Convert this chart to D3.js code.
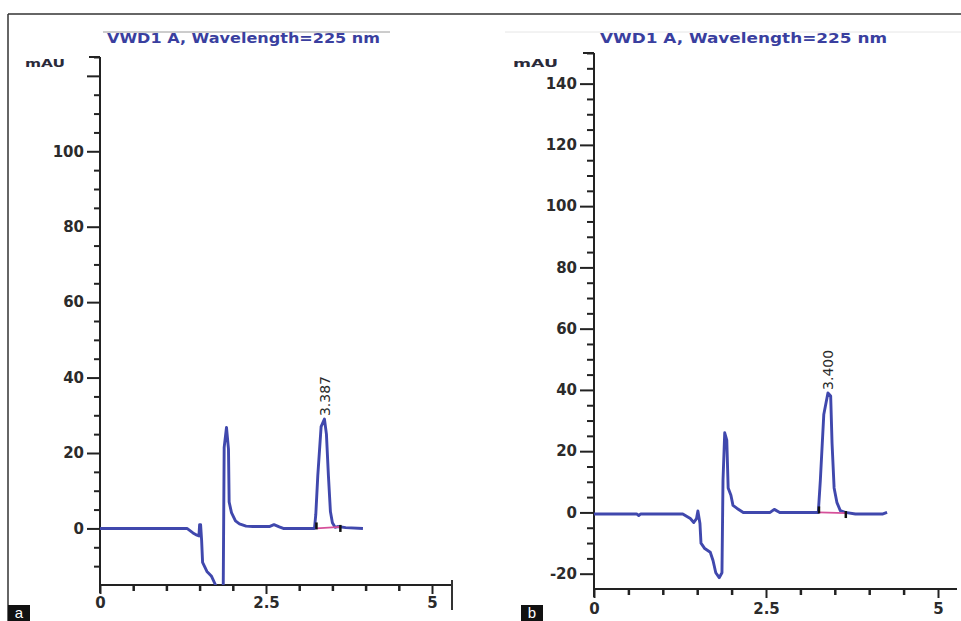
<!DOCTYPE html>
<html>
<head>
<meta charset="utf-8">
<script src="https://cdn.jsdelivr.net/npm/d3@7"></script>
<style>
  html, body { margin: 0; padding: 0; background: #fff; }
  svg { display: block; }
</style>
</head>
<body>
<svg id="chart" width="961" height="621"></svg>
<script>
// ---------------- DATA ----------------
const chartTitle = "VWD1 A, Wavelength=225 nm";
const yUnit = "mAU";
const panelNames = ["a", "b"];

// Panel a: retention time (min) and absorbance (mAU)
const timeA  = [0, 1.31, 1.40, 1.46, 1.49, 1.50, 1.515, 1.53, 1.545, 1.61, 1.68, 1.74, 1.80, 1.855, 1.87, 1.905, 1.935, 1.945, 1.98, 2.04, 2.10, 2.20, 2.30, 2.55, 2.62, 2.70, 2.76, 3.23, 3.25, 3.28, 3.33, 3.38, 3.41, 3.44, 3.47, 3.50, 3.54, 3.58, 3.70, 3.96];
const valueA = [0, 0, -1.2, -1.8, -2.0, 1.0, 1.0, -3.0, -9.0, -11.4, -12.7, -15, -18, -18, 21.5, 26.8, 21, 7, 4.2, 2.0, 1.2, 0.6, 0.5, 0.5, 1.0, 0.4, 0, 0, 3.7, 14, 27, 29, 25, 14, 4.5, 1.5, 0.3, 0.5, 0.2, 0];

// Panel b
const timeB  = [0, 0.62, 0.65, 0.68, 1.29, 1.40, 1.45, 1.49, 1.51, 1.54, 1.555, 1.61, 1.69, 1.73, 1.77, 1.82, 1.86, 1.875, 1.90, 1.93, 1.95, 1.99, 2.02, 2.08, 2.17, 2.56, 2.62, 2.70, 3.26, 3.29, 3.34, 3.40, 3.44, 3.46, 3.49, 3.53, 3.58, 3.65, 3.80, 4.20, 4.26];
const valueB = [-0.5, -0.5, -1.0, -0.5, -0.5, -2.0, -3.3, -2.0, 0.5, -3.6, -10, -11.8, -13, -15.7, -19.7, -21.3, -19.7, 10.5, 26, 23.6, 8, 5.6, 2.3, 1.3, 0, 0, 1.0, 0, 0, 10.5, 32, 39, 38, 22.6, 8, 3.3, 0.6, 0, -0.5, -0.5, 0];

// Integrated peaks: label (retention time), start/end of baseline, start/end baseline levels
const peakTimes   = [3.387, 3.400];
const peakHeights = [29, 39];
const peakStart   = [3.26, 3.27];
const peakEnd     = [3.62, 3.66];
const peakBaseStart = [0, 0];
const peakBaseEnd   = [0.4, -0.2];

// Axis ticks
const xMajorTicks = [0, 2.5, 5];
const xTickLabels = ["0", "2.5", "5"];
const yMajorTicksA = [0, 20, 40, 60, 80, 100, 120];
const yTickLabelsA = ["0", "20", "40", "60", "80", "100", ""];
const yMajorTicksB = [-20, 0, 20, 40, 60, 80, 100, 120, 140];
const yTickLabelsB = ["-20", "0", "20", "40", "60", "80", "100", "120", "140"];
const yDomainA = [-15, 125];
const yDomainB = [-25, 150];
const xDomain = [0, 5];

// ---------------- DRAW ----------------
const svg = d3.select("#chart");
const traceColor = "#4048ad";
const titleColor = "#3a3f9f";
const tickFont = "'DejaVu Sans', sans-serif";

// outer frame
svg.append("line").attr("x1", 8).attr("x2", 961).attr("y1", 14).attr("y2", 14)
  .attr("stroke", "#333").attr("stroke-width", 1.5);
svg.append("line").attr("x1", 8).attr("x2", 8).attr("y1", 14).attr("y2", 621)
  .attr("stroke", "#333").attr("stroke-width", 1.5);

const panels = [
  { time: timeA, value: valueA, yDomain: yDomainA, yTicks: yMajorTicksA, yLabels: yTickLabelsA,
    xRange: [100, 432], yRange: [585, 57], axisEnd: 452, endCap: true,
    titleX: 107, titleLen: 273, titleLine: [103, 390], titleLineColor: "#9a9a9a",
    unitX: 25, unitLen: 40, xLabelY: 608, majorLen: 13, minorLen: 6,
    boxX: 8, idx: 0 },
  { time: timeB, value: valueB, yDomain: yDomainB, yTicks: yMajorTicksB, yLabels: yTickLabelsB,
    xRange: [594, 938], yRange: [589, 53], axisEnd: 957, endCap: false,
    titleX: 600, titleLen: 287, titleLine: [505, 961], titleLineColor: "#e6e6e6",
    unitX: 513, unitLen: 45, xLabelY: 614, majorLen: 14, minorLen: 7,
    boxX: 521, idx: 1 }
];

panels.forEach(p => {
  const g = svg.append("g");
  const x = d3.scaleLinear().domain(xDomain).range(p.xRange);
  const y = d3.scaleLinear().domain(p.yDomain).range(p.yRange);
  const x0 = p.xRange[0];
  const yBottom = p.yRange[0], yTop = p.yRange[1];

  // title line + title
  g.append("line").attr("x1", p.titleLine[0]).attr("x2", p.titleLine[1])
    .attr("y1", 32).attr("y2", 32).attr("stroke", p.titleLineColor).attr("stroke-width", 1);
  g.append("text").attr("x", p.titleX).attr("y", 43)
    .attr("font-family", tickFont).attr("font-weight", "bold").attr("font-size", 14)
    .attr("fill", titleColor).attr("textLength", p.titleLen).attr("lengthAdjust", "spacingAndGlyphs")
    .text(chartTitle);

  // unit label
  g.append("text").attr("x", p.unitX).attr("y", 67)
    .attr("font-family", tickFont).attr("font-weight", "bold").attr("font-size", 11)
    .attr("fill", "#2a2a3a").attr("textLength", p.unitLen).attr("lengthAdjust", "spacingAndGlyphs")
    .text(yUnit);

  // Y axis minor ticks
  const yMinor = d3.range(Math.ceil(p.yDomain[0] / 5) * 5, p.yDomain[1] + 0.01, 5)
    .filter(v => v > p.yDomain[0] && !p.yTicks.includes(v));
  const yMinorAxis = d3.axisLeft(y).tickValues(yMinor).tickSize(p.minorLen).tickFormat("");
  const gym = g.append("g").attr("transform", `translate(${x0},0)`).call(yMinorAxis);
  gym.select(".domain").remove();
  gym.selectAll("line").attr("stroke", "#222").attr("stroke-width", 2);

  // Y axis majors
  const yAxis = d3.axisLeft(y).tickValues(p.yTicks).tickSize(p.majorLen)
    .tickFormat((d, i) => p.yLabels[i]).tickPadding(3);
  const gy = g.append("g").attr("transform", `translate(${x0},0)`).call(yAxis);
  gy.select(".domain").remove();
  gy.selectAll("line").attr("stroke", "#222").attr("stroke-width", 2);
  gy.selectAll("text").attr("font-family", tickFont).attr("font-weight", "bold")
    .attr("font-size", 15).attr("fill", "#2b2b2b");

  // Y axis line + top cap
  g.append("line").attr("x1", x0).attr("x2", x0).attr("y1", yTop).attr("y2", yBottom + 8)
    .attr("stroke", "#222").attr("stroke-width", 2);
  g.append("line").attr("x1", x0 - 11).attr("x2", x0).attr("y1", yTop).attr("y2", yTop)
    .attr("stroke", "#222").attr("stroke-width", 2);

  // X axis minor ticks
  const xMinor = d3.range(0.5, 5.01, 0.5).filter(v => !xMajorTicks.includes(v));
  const xMinorAxis = d3.axisBottom(x).tickValues(xMinor).tickSize(6).tickFormat("");
  const gxm = g.append("g").attr("transform", `translate(0,${yBottom})`).call(xMinorAxis);
  gxm.select(".domain").remove();
  gxm.selectAll("line").attr("stroke", "#222").attr("stroke-width", 2.5);

  const xAxis = d3.axisBottom(x).tickValues(xMajorTicks).tickSize(9)
    .tickFormat((d, i) => xTickLabels[i]);
  const gx = g.append("g").attr("transform", `translate(0,${yBottom})`).call(xAxis);
  gx.select(".domain").remove();
  gx.selectAll("line").attr("stroke", "#222").attr("stroke-width", 2);
  gx.selectAll("text").attr("font-family", tickFont).attr("font-weight", "bold")
    .attr("font-size", 15).attr("fill", "#2b2b2b")
    .attr("dy", null).attr("y", p.xLabelY - yBottom);

  g.append("line").attr("x1", x0).attr("x2", p.axisEnd).attr("y1", yBottom).attr("y2", yBottom)
    .attr("stroke", "#222").attr("stroke-width", 2);
  if (p.endCap) {
    g.append("line").attr("x1", p.axisEnd).attr("x2", p.axisEnd)
      .attr("y1", yBottom - 5).attr("y2", yBottom + 25)
      .attr("stroke", "#333").attr("stroke-width", 2);
  }

  // clip for trace
  const clipId = "clip" + p.idx;
  svg.append("clipPath").attr("id", clipId).append("rect")
    .attr("x", x0).attr("y", yTop).attr("width", p.axisEnd - x0).attr("height", yBottom - yTop);

  const pts = p.time.map((t, i) => [t, p.value[i]]);
  const line = d3.line().x(d => x(d[0])).y(d => y(d[1]));
  g.append("path").datum(pts).attr("d", line)
    .attr("clip-path", `url(#${clipId})`)
    .attr("fill", "none").attr("stroke", traceColor).attr("stroke-width", 2.9)
    .attr("stroke-linejoin", "round");

  // integration baseline (magenta) and markers
  const i = p.idx;
  g.append("line")
    .attr("x1", x(peakStart[i])).attr("y1", y(peakBaseStart[i]))
    .attr("x2", x(peakEnd[i])).attr("y2", y(peakBaseEnd[i]))
    .attr("stroke", "#d6509a").attr("stroke-width", 1.8);
  [[peakStart[i], peakBaseStart[i], -1], [peakEnd[i], peakBaseEnd[i], 1]].forEach(([t, v, dir]) => {
    g.append("line").attr("x1", x(t)).attr("x2", x(t))
      .attr("y1", y(v) - 4 + dir * 2).attr("y2", y(v) + 3 + dir * 2)
      .attr("stroke", "#111").attr("stroke-width", 2.5);
  });

  // peak label (rotated)
  const px = x(peakTimes[i]), py = y(peakHeights[i]) - 3;
  g.append("text").attr("transform", `translate(${px + 5},${py}) rotate(-90)`)
    .attr("font-family", tickFont).attr("font-size", 14).attr("fill", "#2a2a2a")
    .attr("text-anchor", "start")
    .text(d3.format(".3f")(peakTimes[i]));

  // panel letter box
  g.append("rect").attr("x", p.boxX).attr("y", 605).attr("width", 22).attr("height", 16).attr("fill", "#111");
  g.append("text").attr("x", p.boxX + 11).attr("y", 618).attr("text-anchor", "middle")
    .attr("font-family", "'Liberation Sans', Arial, sans-serif").attr("font-size", 15)
    .attr("fill", "#fff").text(panelNames[i]);
});
</script>
</body>
</html>
